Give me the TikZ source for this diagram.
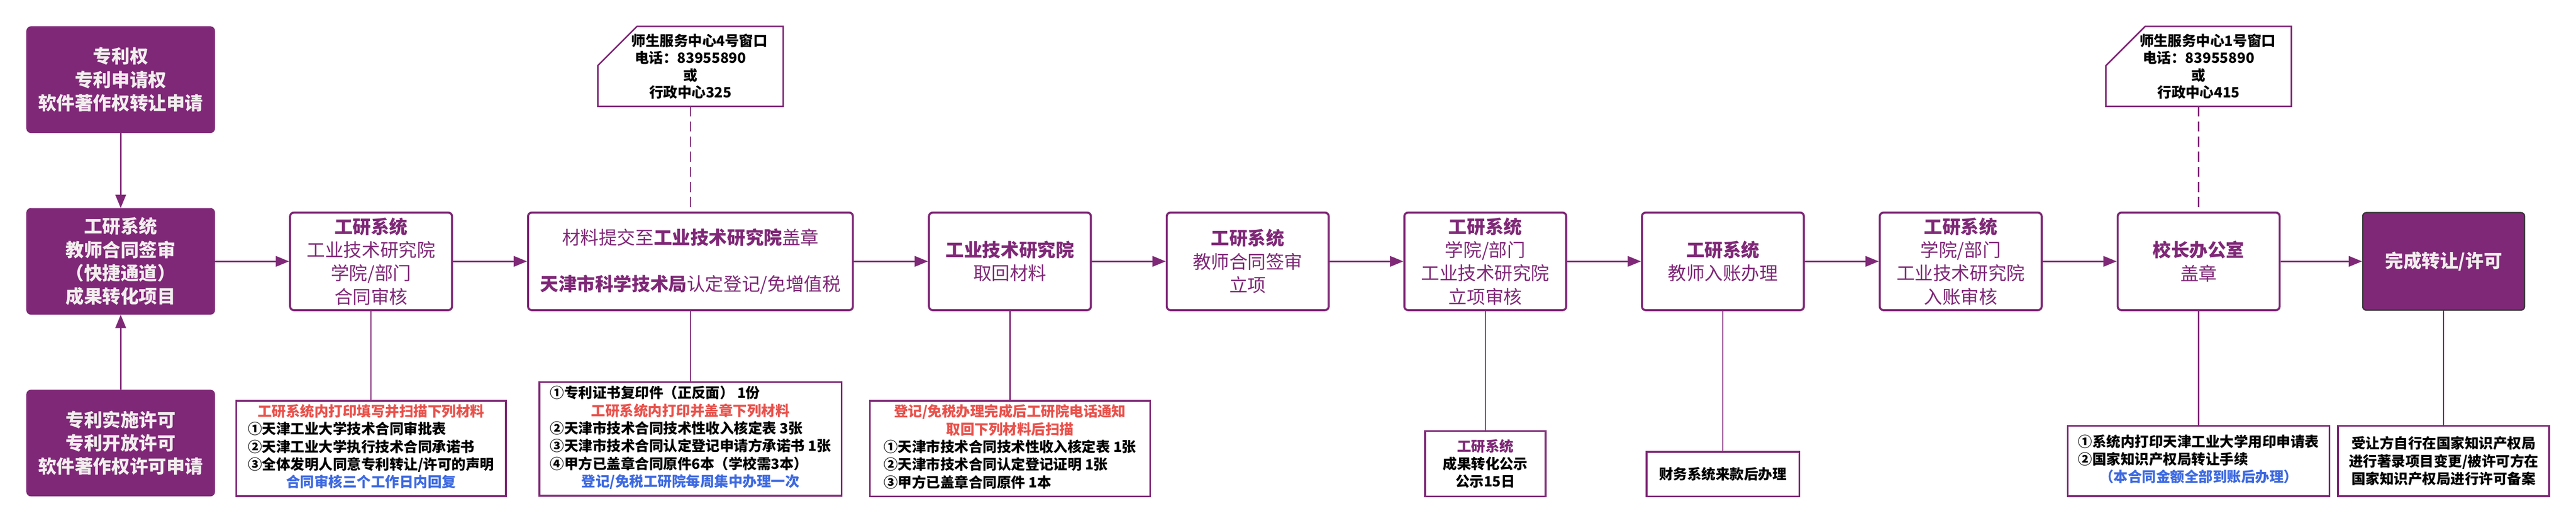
\documentclass[tikz,border=0pt]{standalone}
\usepackage{fontspec}
\setmainfont{Noto Sans CJK SC}
\usetikzlibrary{arrows.meta}
\definecolor{grape}{HTML}{7F2877}
\definecolor{notered}{HTML}{E9524C}
\definecolor{noteblue}{HTML}{3E6AE1}
\definecolor{snow}{HTML}{F2EEEE}
\definecolor{edgegray}{HTML}{333333}
\begin{document}
\begin{tikzpicture}[
    solidbox/.style={fill=grape,draw=grape,rounded corners=0.12cm,text=snow,
      font=\bfseries\fontsize{14.5}{18.5}\selectfont,align=center,inner sep=0pt,
      minimum width=5.23cm,minimum height=2.95cm},
    stepbox/.style={draw=grape,line width=1.6pt,rounded corners=0.1cm,fill=white,text=grape,
      font=\fontsize{14.5}{18.5}\selectfont,align=center,inner sep=0pt,
      minimum width=4.5cm,minimum height=2.71cm},
    notebox/.style={draw=grape,line width=1.4pt,fill=white,
      font=\bfseries\fontsize{11.2}{14}\selectfont,align=center,inner sep=0pt},
    telnote/.style={font=\bfseries\fontsize{11.2}{13.6}\selectfont,align=center,inner sep=0pt,
      minimum width=5.14cm,minimum height=2.21cm},
    flow/.style={draw=grape,line width=1.3pt,-{Triangle[length=0.37cm,width=0.29cm]}},
    tie/.style={draw=grape,line width=1pt},
    phone/.style={draw=grape,line width=1pt,dash pattern=on 0.28cm off 0.14cm}
  ]
  \fill[white] (0,0) rectangle (71.61,14.53);
  \useasboundingbox (0,0) rectangle (71.61,14.53);

  \node[solidbox] (lt) at (3.355,12.315) {专利权\\专利申请权\\软件著作权转让申请};
  \node[solidbox] (lm) at (3.355,7.265) {工研系统\\教师合同签审\\（快捷通道）\\成果转化项目};
  \node[solidbox] (lb) at (3.355,2.215) {专利实施许可\\专利开放许可\\软件著作权许可申请};

  \node[stepbox] (b2) at (10.315,7.265) {\textbf{工研系统}\\工业技术研究院\\学院/部门\\合同审核};
  \node[stepbox,minimum width=9.03cm] (b3) at (19.195,7.265)
    {材料提交至\textbf{工业技术研究院}盖章\\[\baselineskip]\textbf{天津市科学技术局}认定登记/免增值税};
  \node[stepbox] (b4) at (28.075,7.265) {\textbf{工业技术研究院}\\取回材料};
  \node[stepbox] (b5) at (34.685,7.265) {\textbf{工研系统}\\教师合同签审\\立项};
  \node[stepbox] (b6) at (41.29,7.265) {\textbf{工研系统}\\学院/部门\\工业技术研究院\\立项审核};
  \node[stepbox] (b7) at (47.895,7.265) {\textbf{工研系统}\\教师入账办理};
  \node[stepbox] (b8) at (54.505,7.265) {\textbf{工研系统}\\学院/部门\\工业技术研究院\\入账审核};
  \node[stepbox] (b9) at (61.12,7.265) {\textbf{校长办公室}\\盖章};
  \node[stepbox,fill=grape,draw=edgegray,line width=1pt,text=snow,font=\bfseries\fontsize{14.5}{18.5}\selectfont]
    (b10) at (67.93,7.265) {完成转让/许可};

  \node[notebox,minimum width=7.5cm,minimum height=2.65cm] (n1) at (10.315,2.065)
    {\begin{tabular}{@{}l@{}}
      \multicolumn{1}{c}{\color{notered}工研系统内打印填写并扫描下列材料}\\
      ①天津工业大学技术合同审批表\\
      ②天津工业大学执行技术合同承诺书\\
      ③全体发明人同意专利转让/许可的声明\\
      \multicolumn{1}{c}{\color{noteblue}合同审核三个工作日内回复}
    \end{tabular}};
  \node[notebox,minimum width=8.4cm,minimum height=3.16cm] (n2) at (19.195,2.33)
    {\begin{tabular}{@{}l@{}}
      ①专利证书复印件（正反面） 1份\\
      \multicolumn{1}{c}{\color{notered}工研系统内打印并盖章下列材料}\\
      ②天津市技术合同技术性收入核定表 3张\\
      ③天津市技术合同认定登记申请方承诺书 1张\\
      ④甲方已盖章合同原件6本（学校需3本）\\
      \multicolumn{1}{c}{\color{noteblue}登记/免税工研院每周集中办理一次}
    \end{tabular}};
  \node[notebox,minimum width=7.79cm,minimum height=2.66cm] (n3) at (28.075,2.06)
    {\begin{tabular}{@{}l@{}}
      \multicolumn{1}{c}{\color{notered}登记/免税办理完成后工研院电话通知}\\
      \multicolumn{1}{c}{\color{notered}取回下列材料后扫描}\\
      ①天津市技术合同技术性收入核定表 1张\\
      ②天津市技术合同认定登记证明 1张\\
      ③甲方已盖章合同原件 1本
    \end{tabular}};
  \node[notebox,minimum width=3.35cm,minimum height=1.82cm] (n4) at (41.29,1.64)
    {\textcolor{grape}{工研系统}\\成果转化公示\\公示15日};
  \node[notebox,minimum width=4.25cm,minimum height=1.24cm] (n5) at (47.895,1.35) {财务系统来款后办理};
  \node[notebox,minimum width=7.28cm,minimum height=1.95cm] (n6) at (61.12,1.715)
    {\begin{tabular}{@{}l@{}}
      ①系统内打印天津工业大学用印申请表\\
      ②国家知识产权局转让手续\\
      \multicolumn{1}{c}{\color{noteblue}（本合同金额全部到账后办理）}
    \end{tabular}};
  \node[notebox,minimum width=5.87cm,minimum height=1.95cm] (n7) at (67.93,1.715)
    {受让方自行在国家知识产权局\\进行著录项目变更/被许可方在\\国家知识产权局进行许可备案};

  \node[telnote] (t1) at (19.195,12.685) {\hspace*{0.5cm}师生服务中心4号窗口\\电话：83955890\\或\\行政中心325};
  \node[telnote] (t2) at (61.12,12.685) {\hspace*{0.5cm}师生服务中心1号窗口\\电话：83955890\\或\\行政中心415};
  \draw[draw=grape,line width=1.2pt] ([yshift=-1.09cm]t1.north west) -- ([xshift=1.09cm]t1.north west)
    -- (t1.north east) -- (t1.south east) -- (t1.south west) -- cycle;
  \draw[draw=grape,line width=1.2pt] ([yshift=-1.09cm]t2.north west) -- ([xshift=1.09cm]t2.north west)
    -- (t2.north east) -- (t2.south east) -- (t2.south west) -- cycle;

  \draw[flow] (lt) -- (lm);
  \draw[flow] (lb) -- (lm);
  \draw[flow] (lm) -- (b2);
  \draw[flow] (b2) -- (b3);
  \draw[flow] (b3) -- (b4);
  \draw[flow] (b4) -- (b5);
  \draw[flow] (b5) -- (b6);
  \draw[flow] (b6) -- (b7);
  \draw[flow] (b7) -- (b8);
  \draw[flow] (b8) -- (b9);
  \draw[flow] (b9) -- (b10);

  \draw[tie] (b2) -- (n1);
  \draw[tie] (b3) -- (n2);
  \draw[tie] (b4) -- (n3);
  \draw[tie] (b6) -- (n4);
  \draw[tie] (b7) -- (n5);
  \draw[tie] (b9) -- (n6);
  \draw[tie] (b10) -- (n7);
  \draw[phone] (t1) -- (b3);
  \draw[phone] (t2) -- (b9);
\end{tikzpicture}
\end{document}
